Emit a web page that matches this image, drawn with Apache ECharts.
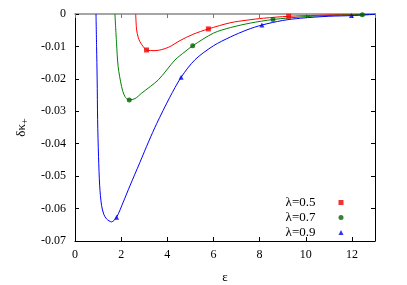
<!DOCTYPE html>
<html>
<head>
<meta charset="utf-8">
<script src="https://cdn.jsdelivr.net/npm/echarts@6/dist/echarts.min.js"></script>
<style>html,body{margin:0;padding:0;background:#fff;}#c{width:407px;height:285px;}</style>
</head>
<body>
<div id="c"></div>
<script>
// Curve samples (epsilon, delta kappa_+)
var redX   = [2.63, 2.67, 2.74, 2.81, 2.96, 3.1, 3.47, 4.04, 4.55, 5.1, 5.78, 6.73, 7.45, 8.17, 9.26, 10.5, 11.5, 13];
var redY   = [0, -0.0049, -0.0072, -0.0085, -0.0101, -0.0111, -0.0113, -0.0103, -0.0082, -0.0063, -0.0046, -0.0027, -0.0019, -0.0013, -0.0007, -0.0004, -0.0002, -0.0001];
var greenX = [1.73, 1.8, 1.87, 2.02, 2.16, 2.35, 2.6, 2.89, 3.61, 4.33, 4.77, 5.1, 6.0, 6.73, 7.6, 8.58, 10.0, 11.2, 12.47, 13];
var greenY = [0, -0.009, -0.0162, -0.0224, -0.0254, -0.0265, -0.0261, -0.0244, -0.0203, -0.0142, -0.0116, -0.0098, -0.0059, -0.0042, -0.0028, -0.0017, -0.0008, -0.0004, -0.0002, -0.0001];
var blueX  = [0.91, 0.935, 0.96, 0.98, 1.02, 1.07, 1.15, 1.25, 1.37, 1.58, 1.8, 2.09, 2.38, 2.81, 3.2, 3.54, 4.1, 4.6, 5.2, 6.0, 6.73, 7.45, 8.1, 9.0, 9.77, 11.0, 11.98, 13];
var blueY  = [0, -0.01, -0.02, -0.0326, -0.044, -0.053, -0.059, -0.0618, -0.0632, -0.0641, -0.0627, -0.058, -0.053, -0.0458, -0.0392, -0.0338, -0.0258, -0.0195, -0.0141, -0.0098, -0.0071, -0.0049, -0.0034, -0.002, -0.0013, -0.0007, -0.0005, -0.0001];
// Marker points
var redMarkX   = [3.1, 5.78, 9.26];
var redMarkY   = [-0.0111, -0.0046, -0.0007];
var greenMarkX = [2.35, 5.1, 8.58, 12.45];
var greenMarkY = [-0.0265, -0.0098, -0.0017, -0.0002];
var blueMarkX  = [1.8, 4.6, 8.1, 11.98];
var blueMarkY  = [-0.0627, -0.0195, -0.0034, -0.0005];
var names = ['λ=0.5', 'λ=0.7', 'λ=0.9'];
var xTicks = [0, 2, 4, 6, 8, 10, 12];
var yTicks = [-0.07, -0.06, -0.05, -0.04, -0.03, -0.02, -0.01, 0];

function pairs(xs, ys) { return xs.map(function (x, i) { return [x, ys[i]]; }); }

var FONT = "'Liberation Serif', 'Times New Roman', serif";
var chart = echarts.init(document.getElementById('c'), null, {renderer: 'canvas'});
var colors = ['#ff0000', '#008000', '#0000ff'];
var markColors = ['#ee0000', '#006400', '#0000ee'];
var symbols = ['rect', 'circle', 'triangle'];
var lineData = [pairs(redX, redY), pairs(greenX, greenY), pairs(blueX, blueY)];
var markData = [pairs(redMarkX, redMarkY), pairs(greenMarkX, greenMarkY), pairs(blueMarkX, blueMarkY)];

var series = [];
for (var i = 0; i < 3; i++) {
  series.push({
    name: names[i] + ' curve', type: 'line', data: lineData[i], showSymbol: false,
    smooth: 0.3, clip: true,
    lineStyle: {color: colors[i], width: 1}, itemStyle: {color: colors[i]}, z: 2, silent: true
  });
}
for (var j = 0; j < 3; j++) {
  series.push({
    name: names[j], type: 'scatter', data: markData[j], symbol: symbols[j], symbolSize: 5,
    itemStyle: {color: markColors[j]}, z: 3, silent: true
  });
}

chart.setOption({
  animation: false,
  backgroundColor: '#fff',
  grid: {left: 75, right: 32, top: 14, bottom: 44, containLabel: false, outerBoundsMode: 'none'},
  legend: {
    data: names.map(function (n, k) { return {name: n, icon: symbols[k]}; }),
    orient: 'vertical', align: 'right', right: 63.5, top: 196, padding: 0,
    itemWidth: 5, itemHeight: 5, itemGap: 2,
    textStyle: {fontFamily: FONT, fontSize: 13, color: '#000', lineHeight: 12, padding: [0, 18, 0, 0]}
  },
  xAxis: [{
    type: 'value', min: 0, max: 13, interval: 2, position: 'bottom',
    name: 'ε', nameLocation: 'middle', nameGap: 30,
    nameTextStyle: {fontFamily: FONT, fontSize: 13, color: '#000'},
    axisLine: {show: true, onZero: false, lineStyle: {color: '#000', width: 1}},
    axisTick: {show: true, inside: true, length: 4, lineStyle: {color: '#000'}},
    axisLabel: {fontFamily: FONT, fontSize: 12, color: '#000', margin: 8, showMaxLabel: false},
    splitLine: {show: false}
  }, {
    type: 'value', min: 0, max: 13, interval: 2, position: 'top',
    axisLine: {show: true, onZero: false, lineStyle: {color: '#888', width: 1.5}},
    axisTick: {show: true, inside: true, length: 4, lineStyle: {color: '#777'}},
    axisLabel: {show: false}, splitLine: {show: false}
  }],
  yAxis: [{
    type: 'value', min: -0.07, max: 0, interval: 0.01, position: 'left',
    name: '{a|δκ}{s|+}', nameLocation: 'middle', nameGap: 41, nameRotate: 90,
    nameTextStyle: {fontFamily: FONT, fontSize: 13, color: '#000',
      rich: {a: {fontFamily: FONT, fontSize: 13, color: '#000', lineHeight: 18, verticalAlign: 'middle'},
             s: {fontFamily: FONT, fontSize: 10, color: '#000', lineHeight: 18, verticalAlign: 'bottom'}}},
    axisLine: {show: true, onZero: false, lineStyle: {color: '#000', width: 1}},
    axisTick: {show: true, inside: true, length: 4, lineStyle: {color: '#000'}},
    axisLabel: {fontFamily: FONT, fontSize: 12, color: '#000', margin: 9},
    splitLine: {show: false}
  }, {
    type: 'value', min: -0.07, max: 0, interval: 0.01, position: 'right',
    axisLine: {show: true, onZero: false, lineStyle: {color: '#000', width: 1}},
    axisTick: {show: true, inside: true, length: 4, lineStyle: {color: '#000'}},
    axisLabel: {show: false}, splitLine: {show: false}
  }],
  series: series
});
</script>
</body>
</html>
